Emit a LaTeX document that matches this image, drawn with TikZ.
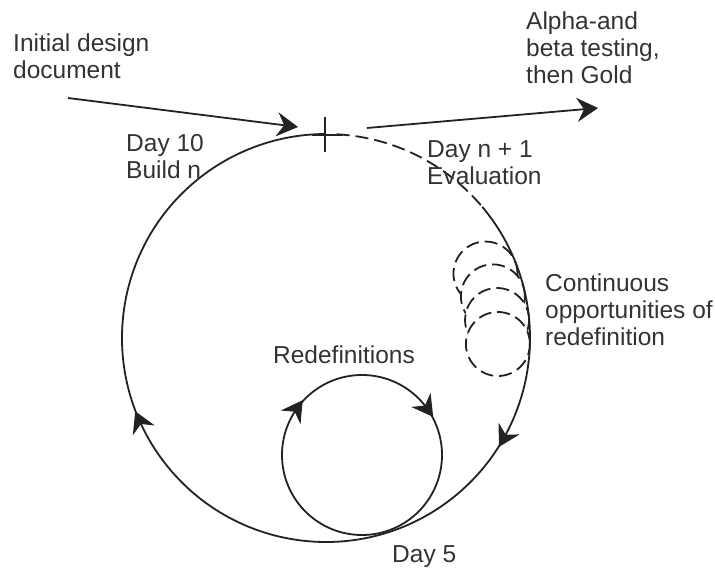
\documentclass[tikz,border=0pt]{standalone}
\usepackage{fontspec}
\setmainfont{Liberation Sans}
\usetikzlibrary{arrows.meta,decorations.markings}
\definecolor{ink}{HTML}{222222}
\definecolor{txt}{HTML}{333333}
\begin{document}
\begin{tikzpicture}[x=1pt,y=1pt,
  line/.style={draw=ink, line width=1.8pt},
  dsh/.style={draw=ink, line width=1.8pt, dash pattern=on 13pt off 6pt},
  lbl/.style={text=txt, font=\fontsize{24.5}{27}\selectfont, align=left, inner sep=0pt},
  headshape/.style={fill=ink, draw=none},
  marks/.style 2 args={postaction={decorate}, decoration={markings,
      mark=at position #1 with {\fill[headshape] (11pt,0pt) -- (-10pt,12pt) -- (-3pt,0pt) -- (-10pt,-12pt) -- cycle;},
      mark=at position #2 with {\fill[headshape] (11pt,0pt) -- (-10pt,12pt) -- (-3pt,0pt) -- (-10pt,-12pt) -- cycle;}}}]
\useasboundingbox (0,0) rectangle (715,571);
\coordinate (C) at (326,233);
\coordinate (S) at (362,116);
% stacked dashed circles (continuous opportunities of redefinition)
\foreach \a in {22,14,6,-2} {
  \path[dsh, fill=white] (C) ++(\a:172) circle[radius=32];
}
% big cycle: dashed evaluation part and solid part
\draw[dsh] (C) ++(87:204) arc[start angle=87, end angle=40, radius=204];
\draw[line, marks={0.223}{0.632}] (C) ++(40:204) arc[start angle=40, end angle=-270, radius=204];
% redefinitions loop
\draw[line, marks={0.347}{0.65}] (S) ++(-90:80) arc[start angle=-90, end angle=-450, radius=80];
% cross at the top
\coordinate (vt) at (325,454); \coordinate (vb) at (325,419);
\coordinate (hl) at (312,436); \coordinate (hr) at (343,436);
\draw[line] (vt) -- (vb);
\draw[line] (hl) -- (hr);
% entry and exit arrows
\coordinate (in0) at (68,473); \coordinate (in1) at (298,444);
\coordinate (out0) at (367,443); \coordinate (out1) at (598,463);
\draw[line, -{Stealth[length=21pt,width=24pt,inset=7pt]}] (in0) -- (in1);
\draw[line, -{Stealth[length=21pt,width=24pt,inset=7pt]}] (out0) -- (out1);
% labels
\node[lbl, anchor=north west] (init) at (13,537) {Initial design\\document};
\node[lbl, anchor=north west] (alpha) at (526,559) {Alpha-and\\beta testing,\\then Gold};
\node[lbl, anchor=north west] (day10) at (126,437) {Day 10\\Build n};
\node[lbl, anchor=north west] (dayn) at (427,431) {Day n + 1\\Evaluation};
\node[lbl, anchor=north west] (cont) at (545,297) {Continuous\\opportunities of\\redefinition};
\node[lbl] (redef) at (344,216) {Redefinitions};
\node[lbl, anchor=west] (day5) at (392,14) {Day 5};
\end{tikzpicture}
\end{document}
